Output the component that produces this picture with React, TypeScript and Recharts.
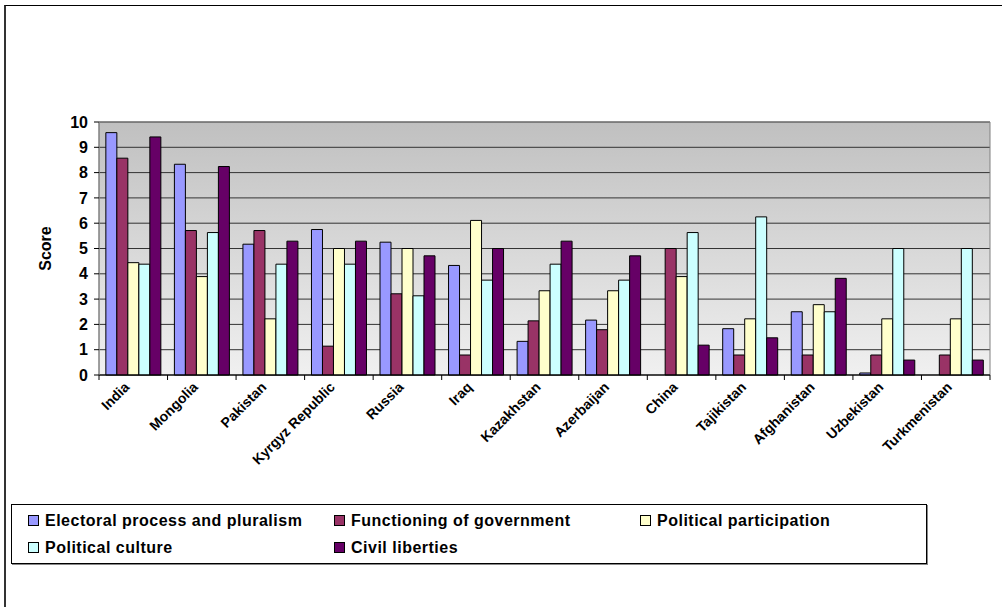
import React from 'react';
import {
  BarChart, Bar, XAxis, YAxis, CartesianGrid, ReferenceArea
} from 'recharts';

const categories = [
  'India', 'Mongolia', 'Pakistan', 'Kyrgyz Republic', 'Russia', 'Iraq', 'Kazakhstan',
  'Azerbaijan', 'China', 'Tajikistan', 'Afghanistan', 'Uzbekistan', 'Turkmenistan'
];

const electoral = [9.58, 8.33, 5.17, 5.75, 5.25, 4.33, 1.33, 2.17, 0, 1.83, 2.5, 0.08, 0];
const functioning = [8.57, 5.71, 5.71, 1.14, 3.21, 0.79, 2.14, 1.79, 5.0, 0.79, 0.79, 0.79, 0.79];
const participation = [4.44, 3.89, 2.22, 5.0, 5.0, 6.11, 3.33, 3.33, 3.89, 2.22, 2.78, 2.22, 2.22];
const culture = [4.38, 5.63, 4.38, 4.38, 3.13, 3.75, 4.38, 3.75, 5.63, 6.25, 2.5, 5.0, 5.0];
const civil = [9.41, 8.24, 5.29, 5.29, 4.71, 5.0, 5.29, 4.71, 1.18, 1.47, 3.82, 0.59, 0.59];

const yTicks = [0, 1, 2, 3, 4, 5, 6, 7, 8, 9, 10];

const series = [
  { key: 'electoral', name: 'Electoral process and pluralism', color: '#9999FF' },
  { key: 'functioning', name: 'Functioning of government', color: '#993366' },
  { key: 'participation', name: 'Political participation', color: '#FFFFCC' },
  { key: 'culture', name: 'Political culture', color: '#CCFFFF' },
  { key: 'civil', name: 'Civil liberties', color: '#660066' },
];

const data = categories.map((name, i) => ({
  name,
  electoral: electoral[i],
  functioning: functioning[i],
  participation: participation[i],
  culture: culture[i],
  civil: civil[i],
}));

const FONT = "'Liberation Sans', Arial, sans-serif";
const W = 1002;
const H = 607;
const M = { top: 122, right: 12, left: 0, bottom: 102 };
const Y_W = 99;
const PLOT_W = W - Y_W - M.right;
const band = PLOT_W / categories.length;

const XTick = (props: any) => {
  const { x, y, payload, index } = props;
  const half = band / 2;
  return (
    <g>
      <line x1={x - half} y1={y} x2={x - half} y2={y + 5} stroke="#000" />
      {index === categories.length - 1 && (
        <line x1={x + half} y1={y} x2={x + half} y2={y + 5} stroke="#000" />
      )}
      <text
        x={x - 3}
        y={y + 13}
        textAnchor="end"
        transform={`rotate(-45, ${x - 3}, ${y + 13})`}
        fontFamily={FONT}
        fontWeight="bold"
        fontSize={14}
        fill="#000"
      >
        {payload.value}
      </text>
    </g>
  );
};

const App: React.FC = () => {
  return (
    <div style={{ position: 'absolute', left: 0, top: 0, width: W, height: H, background: '#fff', overflow: 'hidden', fontFamily: FONT }}>
      <div style={{ position: 'absolute', left: 4, top: 5, width: 1100, height: 700, borderLeft: '2px solid #333', borderTop: '1px solid #000' }} />
      <div style={{ position: 'absolute', left: 0, top: 0 }}>
        <BarChart width={W} height={H} data={data} margin={M} barCategoryGap="10%" barGap={0}>
          <defs>
            <linearGradient id="plotBg" x1="0" y1="0" x2="0" y2="1">
              <stop offset="0%" stopColor="#c0c0c0" />
              <stop offset="100%" stopColor="#f0f0f0" />
            </linearGradient>
          </defs>
          <CartesianGrid vertical={false} stroke="#333" fill="url(#plotBg)" fillOpacity={1} />
          <ReferenceArea y1={0} y2={10} fill="none" stroke="#808080" strokeWidth={1} />
          <XAxis
            dataKey="name"
            interval={0}
            height={130}
            tickSize={0}
            tickMargin={0}
            tickLine={false}
            axisLine={{ stroke: '#000' }}
            tick={<XTick />}
          />
          <YAxis
            domain={[0, 10]}
            ticks={yTicks}
            width={Y_W}
            interval={0}
            tickSize={5}
            tickMargin={6}
            axisLine={{ stroke: '#808080' }}
            tickLine={{ stroke: '#000' }}
            tick={{ fontFamily: FONT, fontWeight: 'bold', fontSize: 16, fill: '#000' }}
            label={{ value: 'Score', angle: -90, position: 'center', dx: -4, style: { fontFamily: FONT, fontWeight: 'bold', fontSize: 16, fill: '#000' } }}
          />
          {series.map((s) => (
            <Bar
              key={s.key}
              dataKey={s.key}
              name={s.name}
              fill={s.color}
              stroke="#000"
              strokeWidth={1}
              isAnimationActive={false}
            />
          ))}
        </BarChart>
      </div>
      <div
        style={{
          position: 'absolute', left: 11, top: 504, width: 914, height: 56,
          border: '1px solid #000', boxShadow: '1px 1px 0 #888',
          display: 'grid', gridTemplateColumns: '306px 306px 306px', gridAutoRows: '27px',
          paddingTop: 2, boxSizing: 'content-box'
        }}
      >
        {series.map((s) => (
          <div key={s.key} style={{ display: 'flex', alignItems: 'center', paddingLeft: 16, fontWeight: 'bold', fontSize: 16, letterSpacing: 0.5, color: '#000', whiteSpace: 'nowrap' }}>
            <span style={{ display: 'inline-block', width: 9, height: 9, background: s.color, border: '1px solid #000', marginRight: 6 }} />
            {s.name}
          </div>
        ))}
      </div>
    </div>
  );
};

export default App;
